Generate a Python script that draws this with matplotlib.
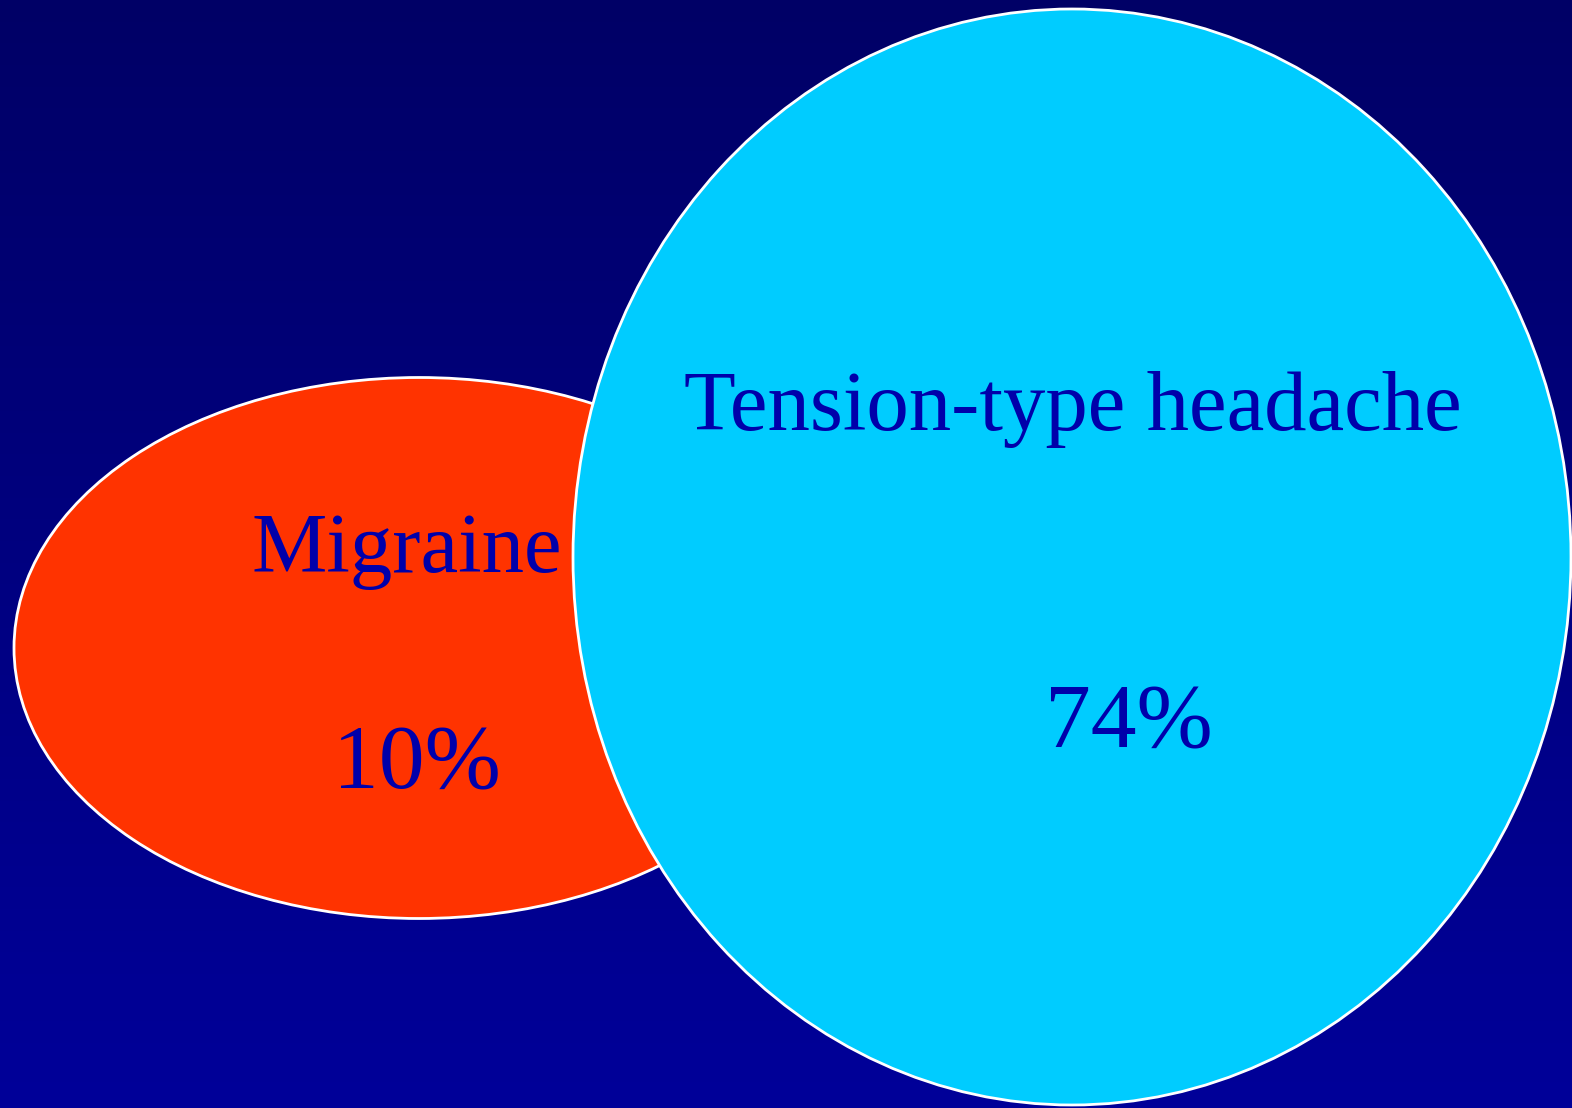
import numpy as np
import matplotlib
matplotlib.use("Agg")
from matplotlib import pyplot as plt
from matplotlib.patches import Ellipse
from matplotlib.colors import LinearSegmentedColormap

### Dane
labels = ["Migraine", "Tension-type headache"]
percents = ["10%", "74%"]
colors = ["#FF3300", "#00CCFF"]

W, H = 1572, 1108
fig = plt.figure(figsize=[W/100, H/100], dpi=100)
ax = fig.add_axes([0, 0, 1, 1])
ax.set_xlim(0, W)
ax.set_ylim(H, 0)
ax.axis("off")

# tło z gradientem
cmap = LinearSegmentedColormap.from_list("bg", ["#000066", "#000099"])
grad = np.linspace(0, 1, 256).reshape(-1, 1)
ax.imshow(grad, cmap=cmap, extent=[0, W, H, 0], aspect="auto", zorder=0)

# elipsy: (środek x, środek y, szerokość, wysokość)
geom = [(419, 648, 810, 541), (1072, 557, 998, 1096)]
for (cx, cy, w, h), c in zip(geom, colors):
    ax.add_patch(Ellipse((cx, cy), w, h, facecolor=c, edgecolor="white", lw=2, zorder=2))

font = dict(family="Liberation Serif", color="#0000AA", ha="center", va="baseline", zorder=3)
label_pos = [(407, 572), (1073, 430)]
pct_pos = [(417, 788), (1129, 747)]
for (x, y), t in zip(label_pos, labels):
    ax.text(x, y, t, fontsize=61, **font)
for (x, y), t in zip(pct_pos, percents):
    ax.text(x, y, t, fontsize=66, **font)

fig.savefig("out.png", dpi=100)
